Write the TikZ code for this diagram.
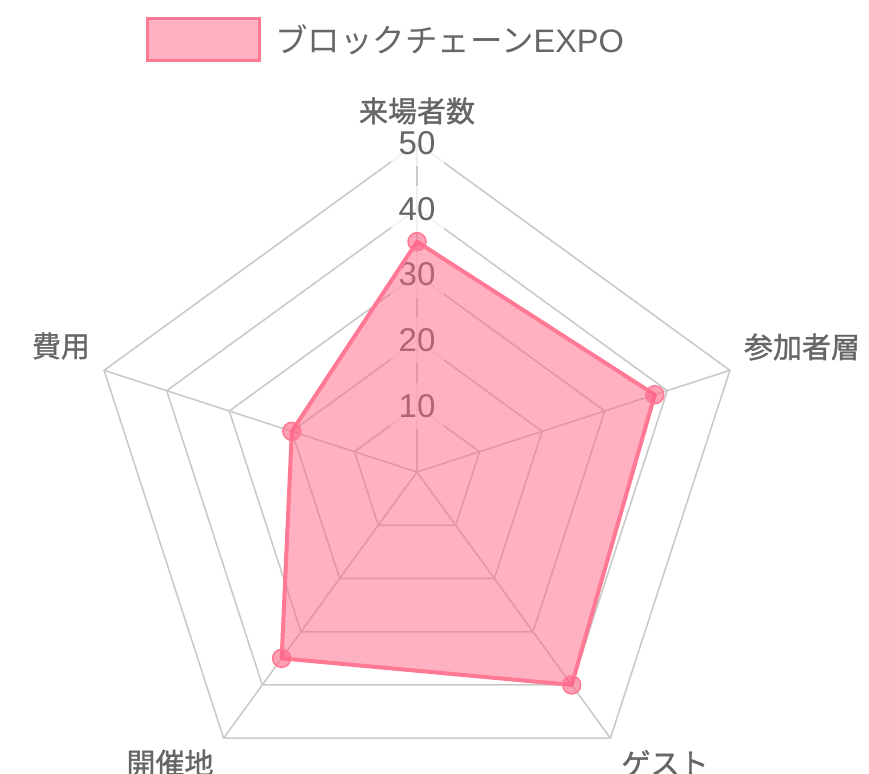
\documentclass[tikz,border=0pt]{standalone}
\usepackage{fontspec}
\setmainfont{Liberation Sans}
\newfontfamily\jp{Noto Sans CJK JP}
\newfontfamily\jpm[FakeBold=1.2]{Noto Sans CJK JP}
\definecolor{txt}{HTML}{666666}
\definecolor{gridc}{HTML}{CACACA}
\definecolor{pk}{RGB}{255,99,132}
\definecolor{pkline}{RGB}{255,120,148}
\tikzset{
  gridline/.style={draw=gridc, line width=1.6pt, line join=miter},
  ticklab/.style={fill=white, fill opacity=0.75, text opacity=1, text=txt, font=\fontsize{33}{33}\selectfont, minimum width=53pt, minimum height=46pt, inner sep=0pt},
  axlab/.style={text=txt, font=\jpm\fontsize{29}{29}\selectfont, inner sep=0pt},
  datafill/.style={fill=pk, fill opacity=0.5, draw=pkline, line width=4pt, line join=round},
  datapt/.style={circle, minimum size=18pt, inner sep=0pt, fill=pk, fill opacity=0.6, draw=pkline, line width=1.5pt},
  legtext/.style={text=txt, font=\jp\fontsize{32.5}{32.5}\selectfont, inner sep=0pt, anchor=west}
}
\begin{document}
\begin{tikzpicture}[x=1pt,y=-1pt]
\useasboundingbox (0,0) rectangle (869,773);
\clip (0,0) rectangle (869,773);
% grid pentagons
\foreach \k in {1,...,5}{
  \draw[gridline] ({417+65.8*\k*cos(90)},{472-65.8*\k*sin(90)})
    -- ({417+65.8*\k*cos(18)},{472-65.8*\k*sin(18)})
    -- ({417+65.8*\k*cos(-54)},{472-65.8*\k*sin(-54)})
    -- ({417+65.8*\k*cos(-126)},{472-65.8*\k*sin(-126)})
    -- ({417+65.8*\k*cos(162)},{472-65.8*\k*sin(162)}) -- cycle;
}
\coordinate (c) at (417,472);
\foreach \a in {90,18,-54,-126,162}{
  \draw[gridline] (c) -- ({417+329*cos(\a)},{472-329*sin(\a)});
}
% tick labels
\node[ticklab] (t1) at (417,{472-65.8*1}) {10};
\node[ticklab] (t2) at (417,{472-65.8*2}) {20};
\node[ticklab] (t3) at (417,{472-65.8*3}) {30};
\node[ticklab] (t4) at (417,{472-65.8*4}) {40};
\node[ticklab] (t5) at (417,{472-65.8*5}) {50};
% data
\coordinate (d1) at ({417+65.8*3.5*cos(90)},{472-65.8*3.5*sin(90)});
\coordinate (d2) at ({417+65.8*3.8*cos(18)},{472-65.8*3.8*sin(18)});
\coordinate (d3) at ({417+65.8*4.0*cos(-54)},{472-65.8*4.0*sin(-54)});
\coordinate (d4) at ({417+65.8*3.5*cos(-126)},{472-65.8*3.5*sin(-126)});
\coordinate (d5) at ({417+65.8*2.0*cos(162)},{472-65.8*2.0*sin(162)});
\path[datafill] (d1) -- (d2) -- (d3) -- (d4) -- (d5) -- cycle;
\node[datapt] (p1) at (d1) {};
\node[datapt] (p2) at (d2) {};
\node[datapt] (p3) at (d3) {};
\node[datapt] (p4) at (d4) {};
\node[datapt] (p5) at (d5) {};
% axis labels
\node[axlab] (l1) at (417,111) {来場者数};
\node[axlab] (l2) at (802,347) {参加者層};
\node[axlab] (l3) at (61,346) {費用};
\node[axlab] (l4) at (170,763) {開催地};
\node[axlab] (l5) at (665,763) {ゲスト};
% legend
\draw[fill=pk, fill opacity=0.5, draw=pkline, line width=3pt] (147.5,18.5) rectangle (259.5,60.5);
\node[legtext] (leg) at (275,40) {ブロックチェーン\fontspec{Liberation Sans}EXPO};
\end{tikzpicture}
\end{document}
